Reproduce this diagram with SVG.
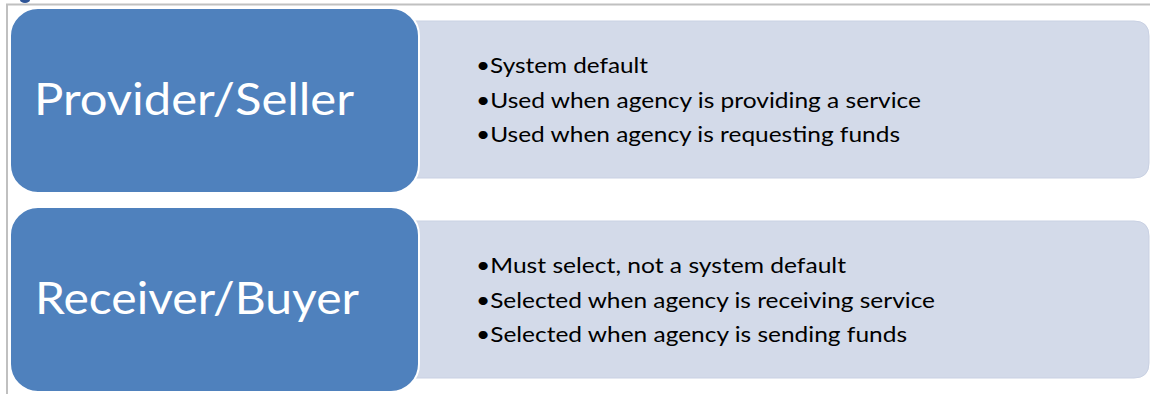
<svg xmlns="http://www.w3.org/2000/svg" width="1150" height="394" viewBox="0 0 1150 394">
<style>
.frame{stroke:#c0c0c0;stroke-width:2;fill:none}
.head{fill:#4f81bd;stroke:#ffffff;stroke-width:2}
.panel{fill:#d3dae9;stroke:#c9d1e3;stroke-width:1}
.title{font-family:Lato,"Open Sans",sans-serif;font-size:45px;fill:#ffffff}
.item{font-family:Lato,"Open Sans",sans-serif;font-size:22px;fill:#000000}
</style>
<rect width="1150" height="394" fill="#ffffff"/>
<ellipse cx="25" cy="0" rx="5" ry="3" fill="#2f5597"/>
<path class="frame" d="M7,394 V4.5 H1150"/>
<g id="connectors"></g>
<g id="provider-panel">
<path class="panel" d="M405,21 H1134 Q1149,21 1149,36 V163 Q1149,178 1134,178 H405 Z"/>
<text class="item" x="476" y="73" textLength="172" lengthAdjust="spacingAndGlyphs">•System default</text>
<text class="item" x="476" y="108" textLength="445" lengthAdjust="spacingAndGlyphs">•Used when agency is providing a service</text>
<text class="item" x="476" y="142" textLength="424" lengthAdjust="spacingAndGlyphs">•Used when agency is requesting funds</text>
</g>
<g id="provider">
<rect class="head" x="10" y="8" width="409" height="185" rx="28" ry="28"/>
<text class="title" x="34" y="115" textLength="320" lengthAdjust="spacingAndGlyphs">Provider/Seller</text>
</g>
<g id="receiver-panel">
<path class="panel" d="M405,221 H1134 Q1149,221 1149,236 V363 Q1149,378 1134,378 H405 Z"/>
<text class="item" x="476" y="273" textLength="370" lengthAdjust="spacingAndGlyphs">•Must select, not a system default</text>
<text class="item" x="476" y="308" textLength="459" lengthAdjust="spacingAndGlyphs">•Selected when agency is receiving service</text>
<text class="item" x="476" y="342" textLength="431" lengthAdjust="spacingAndGlyphs">•Selected when agency is sending funds</text>
</g>
<g id="receiver">
<rect class="head" x="10" y="207" width="409" height="185" rx="28" ry="28"/>
<text class="title" x="35" y="314" textLength="324" lengthAdjust="spacingAndGlyphs">Receiver/Buyer</text>
</g>
</svg>
